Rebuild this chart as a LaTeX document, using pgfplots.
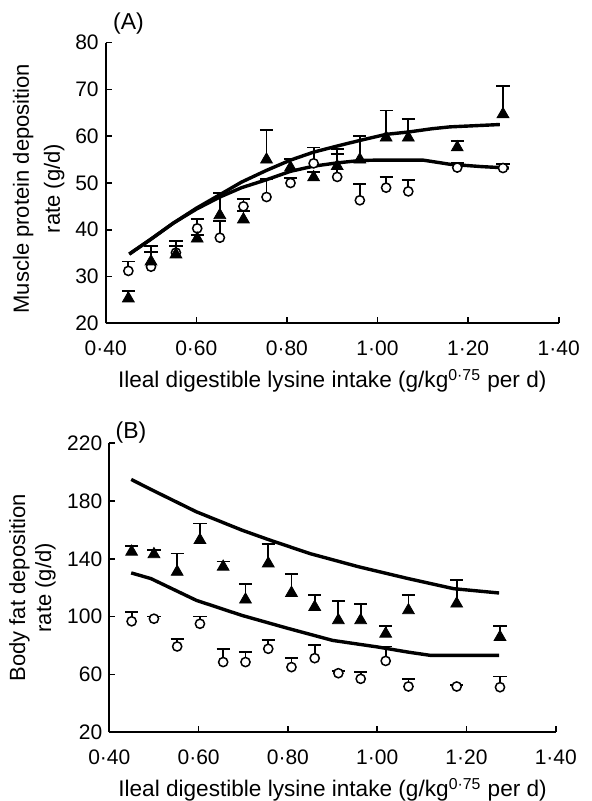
\documentclass[border=0pt]{standalone}
\usepackage{fontspec}
\setmainfont{Liberation Sans}
\usepackage{pgfplots}
\pgfplotsset{compat=1.18}
\usepackage{pgfplotstable}

% Panel A: muscle protein deposition (x, mean, upper SE)
\pgfplotstableread{
x      y     e
0.450  25.3  1.6
0.500  33.2  3.3
0.555  34.7  2.9
0.602  38.1  0.8
0.652  43.1  4.7
0.704  42.2  1.8
0.755  55.0  6.3
0.808  53.3  1.9
0.859  51.2  1.2
0.911  53.6  3.6
0.961  55.0  5.0
1.019  59.7  5.8
1.068  59.7  3.9
1.176  57.6  1.4
1.277  64.7  6.0
}\triA
\pgfplotstableread{
x      y     e
0.450  31.2  2.0
0.500  32.1  3.1
0.555  35.1  1.4
0.602  40.3  2.0
0.652  38.3  3.5
0.704  45.0  1.5
0.755  47.0  3.8
0.808  50.0  1.0
0.859  54.2  3.4
0.911  51.3  4.9
0.961  46.3  3.4
1.019  49.0  2.3
1.068  48.2  2.4
1.176  53.3  1.0
1.277  53.2  0.8
}\cirA
\pgfplotstableread{
x      y
0.452  34.8
0.500  38.0
0.549  41.4
0.600  44.6
0.652  47.5
0.700  50.2
0.755  52.7
0.808  54.9
0.859  56.6
0.911  57.9
0.961  59.1
1.019  60.4
1.068  60.9
1.120  61.6
1.160  62.0
1.270  62.5
}\upA
\pgfplotstableread{
x      y
0.452  34.8
0.500  38.0
0.549  41.4
0.600  44.4
0.652  47.0
0.700  49.0
0.755  50.7
0.808  52.5
0.859  53.6
0.911  54.3
0.961  54.8
1.000  54.9
1.100  54.9
1.160  54.0
1.230  53.5
1.290  53.2
}\loA

% Panel B: body fat deposition
\pgfplotstableread{
x      y      e
0.450  144.9  3.9
0.500  143.2  2.8
0.552  131.0  12.7
0.603  153.0  11.5
0.655  134.5  3.7
0.705  111.8  10.6
0.756  136.8  13.4
0.808  116.4  13.0
0.860  106.7  8.1
0.913  97.5   13.4
0.963  97.5   11.1
1.019  88.2   5.1
1.070  104.4  10.4
1.178  109.0  16.2
1.275  85.9   7.6
}\triB
\pgfplotstableread{
x      y      e
0.450  96.8   6.5
0.500  98.6   1.6
0.552  79.4   5.3
0.603  95.1   5.1
0.655  68.6   9.2
0.705  68.6   6.9
0.756  77.8   5.8
0.808  65.1   6.5
0.860  71.3   9.3
0.913  60.9   1.4
0.963  57.0   4.6
1.019  69.4   10.0
1.070  51.7   5.3
1.178  51.7   0.8
1.275  51.2   7.4
}\cirB
\pgfplotstableread{
x      y
0.449  195.0
0.493  188.1
0.595  172.6
0.697  159.9
0.756  153.4
0.849  143.7
0.959  134.5
1.069  126.4
1.171  119.4
1.273  116.4
}\upB
\pgfplotstableread{
x      y
0.449  130.3
0.493  126.4
0.595  111.3
0.697  100.9
0.798  92.1
0.900  83.6
1.002  79.0
1.069  75.5
1.120  73.2
1.273  73.2
}\loB

\pgfplotsset{
  panel/.style={
    scale only axis,
    axis lines*=left,
    tick align=inside,
    major tick length=3pt,
    axis line style={line width=1pt},
    tick style={line width=0.8pt, black},
    xmin=0.4, xmax=1.4,
    xtick={0.4,0.6,0.8,1.0,1.2,1.4},
    xticklabels={0·40,0·60,0·80,1·00,1·20,1·40},
    /pgf/number format/assume math mode=true,
    tick label style={font=\fontsize{10.5}{12}\selectfont},
    xticklabel style={yshift=-5pt},
    xlabel style={font=\fontsize{11.3}{14}\selectfont},
    xlabel={Ileal digestible lysine intake (g/kg\textsuperscript{0·75} per d)},
    clip=false,
  },
  curve/.style={line width=1.7pt, black, no marks},
  tri/.style={only marks, black, mark=triangle*, mark size=3.4pt,
    mark options={fill=black},
    error bars/.cd, y dir=plus, y explicit,
    error bar style={line width=0.9pt, black},
    error mark options={rotate=90, mark size=3.3pt, line width=0.9pt, black}},
  cir/.style={only marks, black, mark=*, mark size=2.3pt,
    mark options={fill=white, line width=0.75pt},
    error bars/.cd, y dir=plus, y explicit,
    error bar style={line width=0.9pt, black},
    error mark options={rotate=90, mark size=3.3pt, line width=0.9pt, black}},
}

\begin{document}
\begin{tikzpicture}
\path[use as bounding box] (0,0) rectangle (295.5pt,400.5pt);

\begin{axis}[panel,
  at={(52.85pt,238.85pt)}, anchor=south west,
  width=226.5pt, height=140.3pt,
  ymin=20, ymax=80, ytick={20,30,...,80},
  ylabel={Muscle protein deposition\\rate (g/d)},
  ylabel style={at={(axis description cs:-0.148,0.48)}, anchor=center,
    align=center, font=\fontsize{11}{15.5}\selectfont},
]
\addplot[curve] table[x=x,y=y] {\upA};
\addplot[curve] table[x=x,y=y] {\loA};
\addplot[cir] table[x=x,y=y,y error=e] {\cirA};
\addplot[tri] table[x=x,y=y,y error=e] {\triA};
\node[anchor=west, inner sep=0pt, font=\fontsize{11.5}{13}\selectfont] at (rel axis cs:0,1) [xshift=3.5pt, yshift=9.5pt] {(A)};
\end{axis}

\begin{axis}[panel,
  at={(54.65pt,34.35pt)}, anchor=south west,
  width=223.25pt, height=144.5pt,
  ymin=20, ymax=220, ytick={20,60,100,140,180,220},
  ylabel={Body fat deposition\\rate (g/d)},
  ylabel style={at={(axis description cs:-0.172,0.5)}, anchor=center,
    align=center, font=\fontsize{11}{13}\selectfont},
]
\addplot[curve] table[x=x,y=y] {\upB};
\addplot[curve] table[x=x,y=y] {\loB};
\addplot[cir] table[x=x,y=y,y error=e] {\cirB};
\addplot[tri] table[x=x,y=y,y error=e] {\triB};
\node[anchor=west, inner sep=0pt, font=\fontsize{11.5}{13}\selectfont] at (rel axis cs:0,1) [xshift=3pt, yshift=5.5pt] {(B)};
\end{axis}
\end{tikzpicture}
\end{document}
